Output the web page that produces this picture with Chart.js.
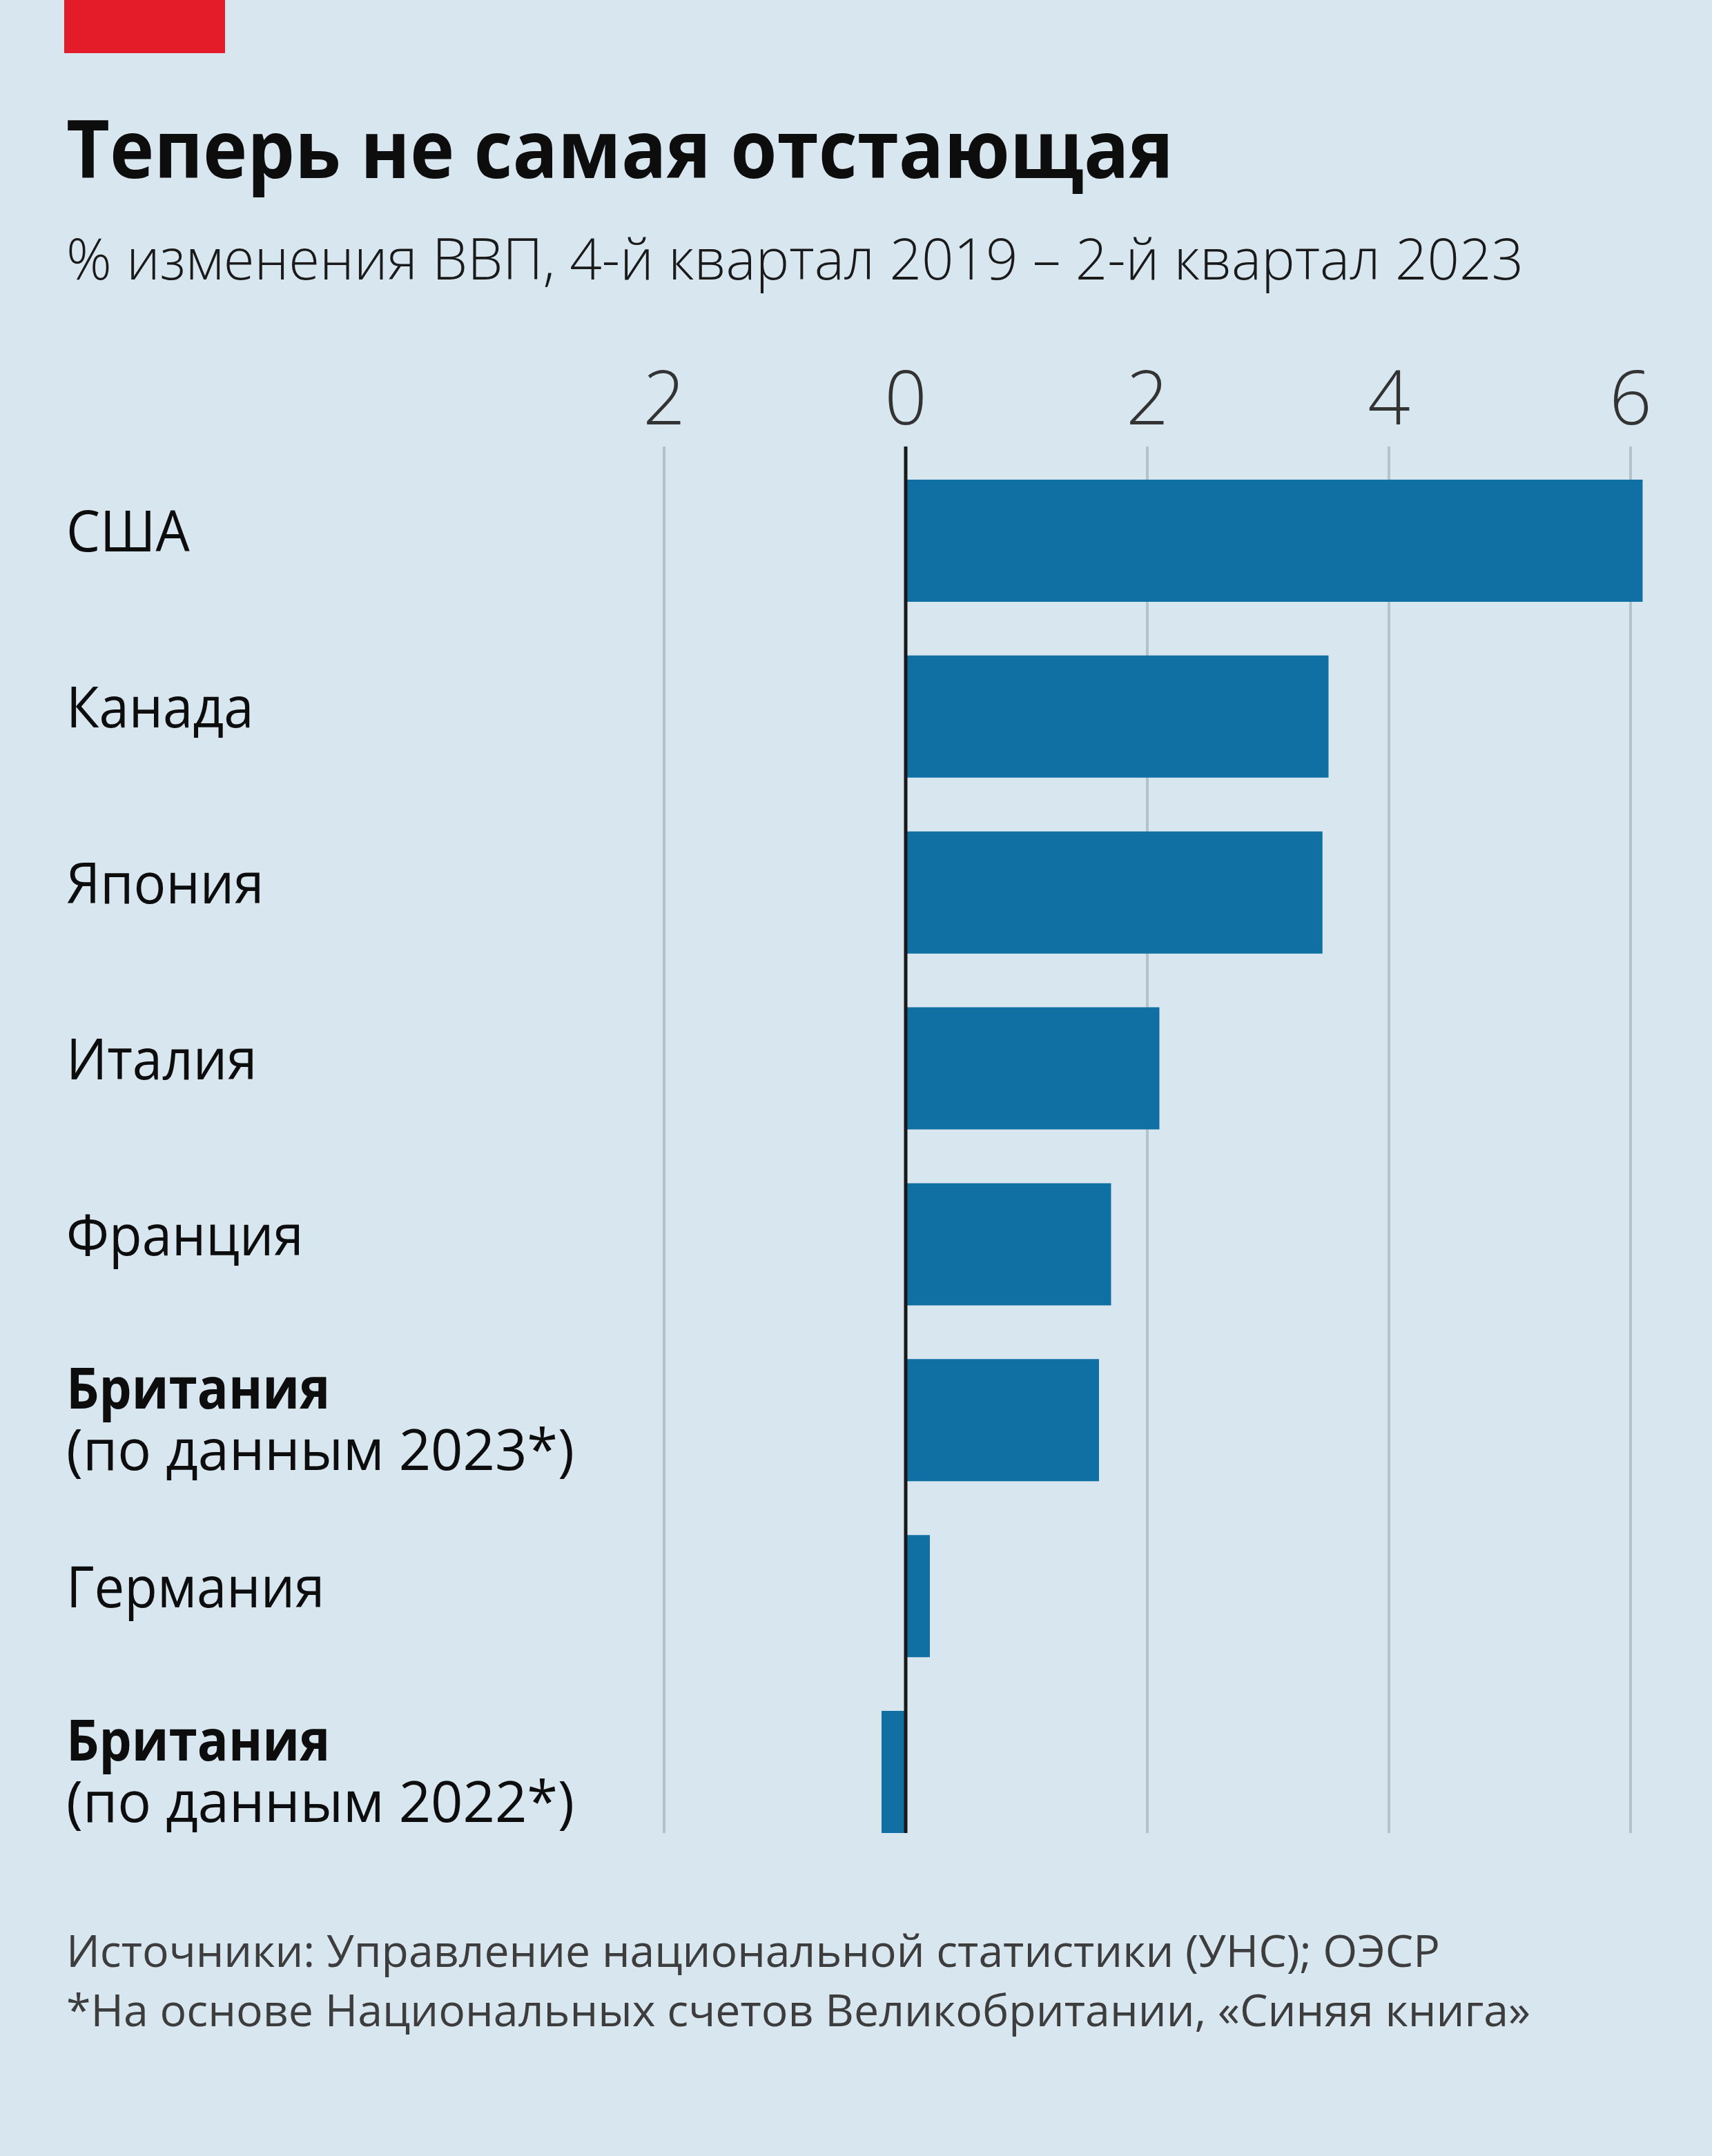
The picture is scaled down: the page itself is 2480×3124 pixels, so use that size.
<!DOCTYPE html>
<html><head><meta charset="utf-8">
<script src="https://cdn.jsdelivr.net/npm/chart.js@4.4.0/dist/chart.umd.min.js"></script>
<style>
html,body{margin:0;padding:0;}
body{width:2480px;height:3124px;background:#d8e6ef;position:relative;overflow:hidden;font-family:"Open Sans",sans-serif;}
#redbar{position:absolute;left:93px;top:0;width:233px;height:77px;background:#e41c2a;}
.t{position:absolute;left:96px;top:0;white-space:nowrap;transform-origin:0 0;}
.t .m{display:inline-block;width:0;height:0;}
#title{font-weight:700;font-size:116px;color:#0d0d0d;}
#sub{font-weight:300;font-size:83px;color:#1a1a1a;}
.foot{font-size:64px;color:#3d3d3d;}
#c{position:absolute;left:0;top:0;}
</style></head>
<body>
<div id="redbar"></div>
<div class="t" id="title" data-base="258" data-w="1604"><span class="x">Теперь не самая отстающая</span><span class="m"></span></div>
<div class="t" id="sub" data-base="405" data-w="2111"><span class="x">% изменения ВВП, 4-й квартал 2019 – 2-й квартал 2023</span><span class="m"></span></div>
<canvas id="c" width="2480" height="3124"></canvas>
<div class="t foot" data-base="2850" data-w="1990"><span class="x">Источники: Управление национальной статистики (УНС); ОЭСР</span><span class="m"></span></div>
<div class="t foot" data-base="2936" data-w="2121"><span class="x">*На основе Национальных счетов Великобритании, «Синяя книга»</span><span class="m"></span></div>
<script>
const categories = ["США", "Канада", "Япония", "Италия", "Франция", "Британия", "Германия", "Британия"];
const categoryNotes = ["", "", "", "", "", "(по данным 2023*)", "", "(по данным 2022*)"];
const boldCategory = [false, false, false, false, false, true, false, true];
const gdpChange = [6.1, 3.5, 3.45, 2.1, 1.7, 1.6, 0.2, -0.2];
const tickValues = [-2, 0, 2, 4, 6];
const tickLabels = ["2", "0", "2", "4", "6"];

function place(){
  document.querySelectorAll('.t').forEach(el=>{
    el.style.transform='none';
    const m = el.querySelector('.m'), x = el.querySelector('.x');
    el.style.top = (+el.dataset.base - m.offsetTop) + 'px';
    const w = x.getBoundingClientRect().width, tw = +el.dataset.w;
    if (tw && w) el.style.transform = 'scaleX(' + (tw / w) + ')';
  });
}

function labelText(ctx, txt, x, y, bold, sx){
  ctx.save();
  ctx.font = (bold ? '700' : '400') + ' 82px "Open Sans"';
  ctx.translate(x, y);
  ctx.scale(sx, 1);
  ctx.fillText(txt, 0, 0);
  ctx.restore();
}

const gridPlugin = {
  id: 'gridPlugin',
  beforeDatasetsDraw(chart){
    const ctx = chart.ctx, xs = chart.scales.x, meta = chart.getDatasetMeta(0);
    const last = meta.data[meta.data.length - 1];
    const bottom = last.y + last.height / 2, top = chart.chartArea.top - 9;
    ctx.save();
    ctx.strokeStyle = '#b3c2cb'; ctx.lineWidth = 4;
    xs.ticks.forEach(t => {
      if (t.value === 0) return;
      const px = Math.round(xs.getPixelForValue(t.value));
      ctx.beginPath(); ctx.moveTo(px, top); ctx.lineTo(px, bottom); ctx.stroke();
    });
    ctx.restore();
  },
  afterDatasetsDraw(chart){
    const ctx = chart.ctx, xs = chart.scales.x, meta = chart.getDatasetMeta(0);
    const last = meta.data[meta.data.length - 1];
    const bottom = last.y + last.height / 2, top = chart.chartArea.top - 9;
    const px = Math.round(xs.getPixelForValue(0));
    ctx.save();
    ctx.strokeStyle = '#181818'; ctx.lineWidth = 5;
    ctx.beginPath(); ctx.moveTo(px, top); ctx.lineTo(px, bottom); ctx.stroke();
    ctx.restore();
  },
  afterDraw(chart){
    const ctx = chart.ctx, meta = chart.getDatasetMeta(0);
    ctx.save();
    ctx.fillStyle = '#0d0d0d'; ctx.textAlign = 'left'; ctx.textBaseline = 'alphabetic';
    meta.data.forEach((bar, i) => {
      const cy = bar.y;
      const sx = boldCategory[i] ? 0.91 : 0.95;
      if (categoryNotes[i]) {
        labelText(ctx, categories[i], 96, cy - 17, boldCategory[i], sx);
        labelText(ctx, categoryNotes[i], 96, cy + 72, false, 0.99);
      } else {
        labelText(ctx, categories[i], 96, cy + 16, boldCategory[i], sx);
      }
    });
    ctx.restore();
  }
};

function draw(){
  place();
  new Chart(document.getElementById('c'), {
    type: 'bar',
    data: {
      labels: categories.map((c, i) => categoryNotes[i] ? [c, categoryNotes[i]] : c),
      datasets: [{
        data: gdpChange,
        backgroundColor: '#1170a3',
        borderWidth: 0,
        barPercentage: 0.694,
        categoryPercentage: 1
      }]
    },
    options: {
      indexAxis: 'y',
      responsive: false,
      animation: false,
      devicePixelRatio: 1,
      layout: { padding: { left: 927, right: 83, top: 516, bottom: 429 } },
      plugins: { legend: { display: false }, tooltip: { enabled: false }, title: { display: false } },
      scales: {
        x: {
          type: 'linear',
          position: 'top',
          min: -2.2,
          max: 6.2,
          afterBuildTicks: s => { s.ticks = tickValues.map(v => ({ value: v })); },
          afterFit: s => { s.height = 140; },
          grid: { display: false, drawTicks: false },
          border: { display: false },
          ticks: {
            includeBounds: false,
            padding: 7,
            color: '#333333',
            font: { family: '"Open Sans"', size: 108, weight: '300' },
            callback: (v) => { const k = tickValues.indexOf(v); return k >= 0 ? tickLabels[k] : ''; }
          }
        },
        y: {
          display: false,
          grid: { display: false }
        }
      }
    },
    plugins: [gridPlugin]
  });
}
if (document.fonts && document.fonts.ready) {
  Promise.all([
    document.fonts.load('700 116px "Open Sans"'),
    document.fonts.load('300 83px "Open Sans"'),
    document.fonts.load('400 82px "Open Sans"')
  ]).catch(()=>{}).then(() => document.fonts.ready).then(draw);
} else { draw(); }
</script>
</body></html>
